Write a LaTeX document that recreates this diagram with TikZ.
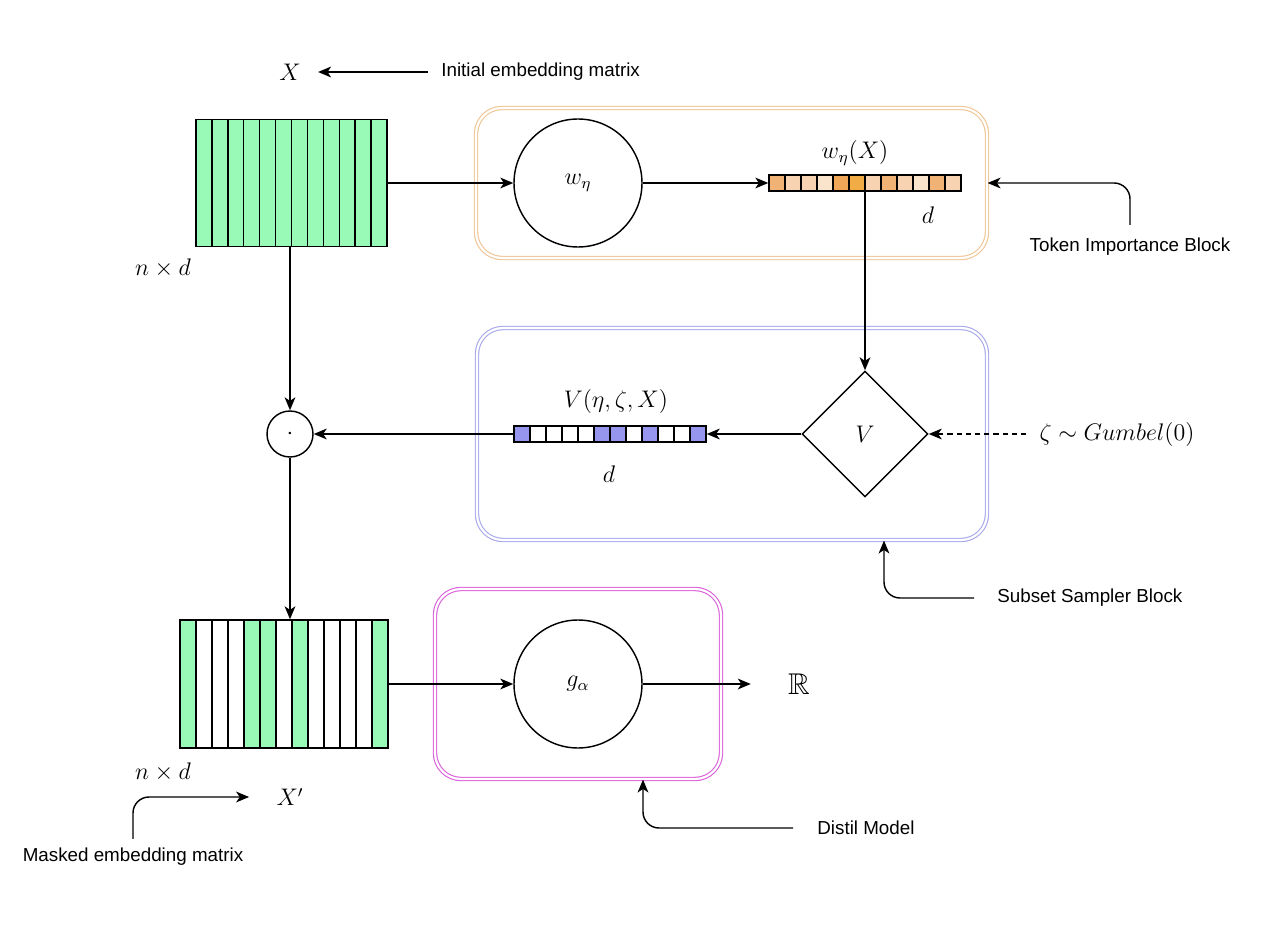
\documentclass[tikz,border=0pt]{standalone}
\usepackage{amsmath,amssymb}
\usepackage{fontspec}
\setsansfont{Liberation Sans}
\usetikzlibrary{arrows.meta,positioning,fit,shapes.geometric}
\definecolor{gr}{RGB}{153,250,183}
\definecolor{pv}{RGB}{150,150,238}
\definecolor{o1}{RGB}{241,178,118}
\definecolor{o2}{RGB}{247,211,178}
\definecolor{o3}{RGB}{250,228,204}
\definecolor{o4}{RGB}{240,168,88}
\definecolor{o5}{RGB}{241,172,70}
\definecolor{tibc}{RGB}{240,196,148}
\definecolor{ssbc}{RGB}{168,168,236}
\definecolor{dmc}{RGB}{220,96,220}

\begin{document}
\begin{tikzpicture}[x=0.5pt,y=-0.5pt,font=\sffamily\fontsize{9.4}{11}\selectfont,line width=0.72pt,
  arr/.style={-{Stealth[length=6.5pt,width=5.4pt,inset=1.8pt]}},
  mth/.style={font=\fontsize{11.7}{14}\selectfont},
  col/.style={draw,fill=#1,minimum width=7.96pt,minimum height=63.5pt,inner sep=0,outer sep=0},
  colb/.style={draw,fill=#1,minimum width=8pt,minimum height=64pt,inner sep=0,outer sep=0},
  cell/.style={draw,fill=#1,minimum size=8pt,inner sep=0,outer sep=0},
  unit/.style={draw,circle,minimum size=64pt,inner sep=0,mth},
  blockbox/.style={draw=#1,double,double distance=1.1pt,line width=0.55pt,rounded corners=13pt,inner sep=0}]
\useasboundingbox (0,0) rectangle (1280,925);
% embedding matrices
\foreach \c [count=\i] in {gr,gr,gr,gr,gr,gr,gr,gr,gr,gr,gr,gr}
  \node[col=\c] (xa\i) at ({196+(\i-0.5)*15.92},183) {};
\node[fit=(xa1)(xa12),inner sep=0] (emb) {};
\foreach \c [count=\i] in {gr,white,white,white,gr,gr,white,gr,white,white,white,white,gr}
  \node[colb=\c] (xb\i) at ({180+(\i-0.5)*16},684) {};
\node[fit=(xb1)(xb13),inner sep=0] (memb) {};
\node[mth] (embdim) at (163,268) {$n\times d$};
\node[mth] (membdim) at (163,772) {$n\times d$};
\node[mth] (xin) at (290,72) {$X$};
\node[anchor=west] (iel) at (434,72) {Initial embedding matrix};
\node[mth] (xmask) at (290,797) {$X'$};
\node (meml) at (133,857) {Masked embedding matrix};
% token importance block
\node[blockbox=tibc,minimum width=255.5pt,minimum height=75pt] (tib) at (731.5,183) {};
\node[unit] (wnet) at (578,183) {$w_\eta$};
\foreach \c [count=\i] in {o1,o2,o2,o3,o4,o5,o2,o1,o2,o3,o1,o2}
  \node[cell=\c] (wv\i) at ({769+(\i-0.5)*16},183) {};
\node[fit=(wv1)(wv12),inner sep=0] (wvec) {};
\node[mth] (wlab) at (855,153) {$w_\eta(X)$};
\node[mth] (wdim) at (928,215) {$d$};
\node (tibl) at (1130,247) {Token Importance Block};
% subset sampler block
\node[blockbox=ssbc,minimum width=255pt,minimum height=106pt] (ssb) at (732,434) {};
\node[draw,diamond,minimum width=63pt,minimum height=63pt,inner sep=0,mth] (vsel) at (865,434) {$V$};
\foreach \c [count=\i] in {pv,white,white,white,white,pv,pv,white,pv,white,white,pv}
  \node[cell=\c] (vv\i) at ({514+(\i-0.5)*16},434) {};
\node[fit=(vv1)(vv12),inner sep=0] (vvec) {};
\node[mth] (vlab) at (616,402) {$V(\eta,\zeta,X)$};
\node[mth] (vdim) at (609,474) {$d$};
\node[mth] (gum) at (1117,434) {$\zeta\sim Gumbel(0)$};
\node[anchor=west] (ssbl) at (990,598) {Subset Sampler Block};
\node[draw,circle,minimum size=23pt,inner sep=0,mth] (prod) at (290,434) {$\cdot$};
% distil model
\node[blockbox=dmc,minimum width=143pt,minimum height=95pt] (dm) at (578,684) {};
\node[unit] (gnet) at (578,684) {$g_\alpha$};
\node[font=\fontsize{15}{18}\selectfont] (reals) at (799,684) {$\mathbb{R}$};
\node[anchor=west] (dml) at (810,828) {Distil Model};
% connectors
\draw[arr,shorten >=5pt] ([xshift=-3pt]iel.west) -- (xin);
\draw[arr] (emb.east) -- (wnet.west);
\draw[arr] (wnet) -- (wvec.west);
\draw[arr] (wv6.south east) -- (vsel.north);
\draw[arr,dashed,dash pattern=on 2.6pt off 2pt,shorten <=3pt] (gum.west) -- (vsel.east);
\draw[arr] (vsel) -- (vvec.east);
\draw[arr] (vvec) -- (prod);
\draw[arr] (emb.south -| prod) -- (prod.north);
\draw[arr] (prod) -- (prod |- memb.north);
\draw[arr] (memb.east) -- (gnet.west);
\draw[arr,shorten >=15pt] (gnet) -- (reals);
\draw[arr,rounded corners=8pt] ([yshift=3pt]tibl.north) |- (tib.east);
\draw[arr,rounded corners=8pt] ([xshift=-8pt]ssbl.west) -| ([xshift=76pt]ssb.south);
\draw[arr,rounded corners=8pt] ([xshift=-8.5pt]dml.west) -| ([xshift=32.5pt]dm.south);
\draw[arr,rounded corners=8pt,shorten >=10pt] ([yshift=1pt]meml.north) |- (xmask);
\end{tikzpicture}
\end{document}
